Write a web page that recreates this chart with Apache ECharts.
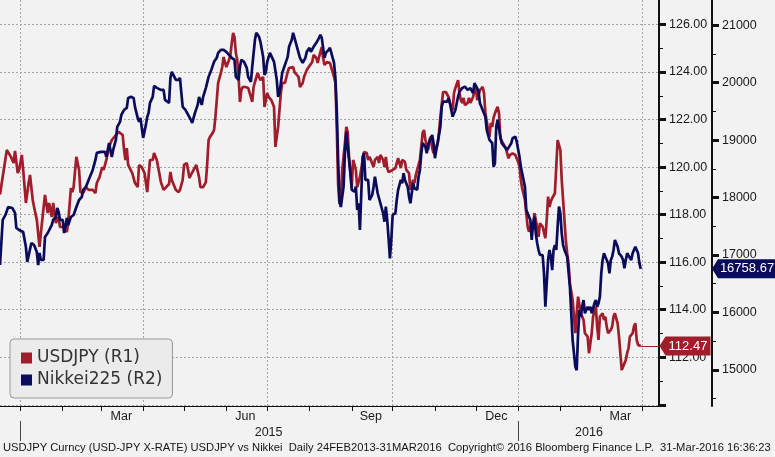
<!DOCTYPE html>
<html><head><meta charset="utf-8">
<script src="https://cdn.jsdelivr.net/npm/echarts@6/dist/echarts.min.js"></script>
<style>html,body{margin:0;padding:0;background:#f2f2f2}#c{width:775px;height:457px}</style>
</head><body><div id="c"></div>
<script>
// ---------- DATA ----------
const usdDates = ['2014-12-17','2014-12-22','2014-12-25','2014-12-27','2014-12-28','2014-12-30','2014-12-31','2015-01-02','2015-01-03','2015-01-05','2015-01-07','2015-01-08','2015-01-10','2015-01-11','2015-01-13','2015-01-15','2015-01-16','2015-01-18','2015-01-19','2015-01-21','2015-01-22','2015-01-24','2015-01-25','2015-01-27','2015-01-29','2015-01-30','2015-02-02','2015-02-04','2015-02-05','2015-02-07','2015-02-08','2015-02-09','2015-02-11','2015-02-13','2015-02-14','2015-02-16','2015-02-18','2015-02-20','2015-02-23','2015-02-25','2015-02-26','2015-02-28','2015-03-02','2015-03-03','2015-03-05','2015-03-07','2015-03-09','2015-03-12','2015-03-14','2015-03-17','2015-03-18','2015-03-19','2015-03-20','2015-03-21','2015-03-24','2015-03-26','2015-03-28','2015-03-29','2015-03-31','2015-04-02','2015-04-04','2015-04-06','2015-04-08','2015-04-09','2015-04-11','2015-04-12','2015-04-14','2015-04-16','2015-04-17','2015-04-20','2015-04-21','2015-04-22','2015-04-25','2015-04-27','2015-04-28','2015-04-30','2015-05-01','2015-05-03','2015-05-05','2015-05-06','2015-05-08','2015-05-10','2015-05-12','2015-05-13','2015-05-15','2015-05-17','2015-05-18','2015-05-19','2015-05-20','2015-05-22','2015-05-23','2015-05-24','2015-05-25','2015-05-26','2015-05-28','2015-05-29','2015-05-30','2015-06-01','2015-06-03','2015-06-04','2015-06-05','2015-06-06','2015-06-07','2015-06-08','2015-06-09','2015-06-10','2015-06-11','2015-06-12','2015-06-13','2015-06-15','2015-06-17','2015-06-19','2015-06-20','2015-06-21','2015-06-22','2015-06-24','2015-06-25','2015-06-26','2015-06-28','2015-06-29','2015-06-30','2015-07-01','2015-07-02','2015-07-04','2015-07-06','2015-07-07','2015-07-08','2015-07-09','2015-07-11','2015-07-12','2015-07-14','2015-07-16','2015-07-17','2015-07-20','2015-07-21','2015-07-22','2015-07-24','2015-07-25','2015-07-27','2015-07-28','2015-07-30','2015-07-31','2015-08-03','2015-08-04','2015-08-06','2015-08-07','2015-08-08','2015-08-10','2015-08-11','2015-08-12','2015-08-14','2015-08-16','2015-08-19','2015-08-20','2015-08-21','2015-08-22','2015-08-23','2015-08-24','2015-08-25','2015-08-27','2015-08-28','2015-08-29','2015-08-30','2015-09-01','2015-09-02','2015-09-03','2015-09-04','2015-09-05','2015-09-07','2015-09-09','2015-09-10','2015-09-12','2015-09-13','2015-09-14','2015-09-15','2015-09-17','2015-09-18','2015-09-20','2015-09-21','2015-09-22','2015-09-24','2015-09-25','2015-09-26','2015-09-27','2015-09-28','2015-10-01','2015-10-03','2015-10-05','2015-10-06','2015-10-07','2015-10-08','2015-10-10','2015-10-11','2015-10-13','2015-10-14','2015-10-16','2015-10-17','2015-10-18','2015-10-19','2015-10-21','2015-10-23','2015-10-24','2015-10-25','2015-10-27','2015-10-28','2015-10-29','2015-10-30','2015-10-31','2015-11-01','2015-11-03','2015-11-04','2015-11-05','2015-11-07','2015-11-08','2015-11-09','2015-11-10','2015-11-11','2015-11-12','2015-11-14','2015-11-15','2015-11-16','2015-11-18','2015-11-19','2015-11-20','2015-11-21','2015-11-22','2015-11-23','2015-11-25','2015-11-26','2015-11-27','2015-11-29','2015-11-30','2015-12-01','2015-12-02','2015-12-03','2015-12-04','2015-12-06','2015-12-07','2015-12-08','2015-12-10','2015-12-11','2015-12-12','2015-12-13','2015-12-14','2015-12-15','2015-12-17','2015-12-18','2015-12-19','2015-12-21','2015-12-23','2015-12-25','2015-12-26','2015-12-28','2015-12-30','2015-12-31','2016-01-01','2016-01-02','2016-01-03','2016-01-04','2016-01-06','2016-01-07','2016-01-08','2016-01-09','2016-01-11','2016-01-12','2016-01-13','2016-01-14','2016-01-16','2016-01-17','2016-01-19','2016-01-21','2016-01-22','2016-01-23','2016-01-24','2016-01-25','2016-01-26','2016-01-28','2016-01-29','2016-01-30','2016-01-31','2016-02-01','2016-02-02','2016-02-03','2016-02-05','2016-02-06','2016-02-07','2016-02-08','2016-02-10','2016-02-12','2016-02-13','2016-02-14','2016-02-16','2016-02-17','2016-02-18','2016-02-19','2016-02-21','2016-02-22','2016-02-23','2016-02-24','2016-02-25','2016-02-27','2016-02-28','2016-02-29','2016-03-01','2016-03-03','2016-03-04','2016-03-05','2016-03-06','2016-03-07','2016-03-09','2016-03-10','2016-03-11','2016-03-12','2016-03-14','2016-03-15','2016-03-16','2016-03-17','2016-03-18','2016-03-20','2016-03-21','2016-03-22','2016-03-23','2016-03-25','2016-03-26','2016-03-27','2016-03-28','2016-03-29','2016-03-31'];
const usdValues = [118.85,120.72,120.43,120.17,120.68,119.75,119.88,120.51,119.88,118.49,119.33,119.67,118.62,118.32,117.78,116.64,117.23,118.32,118.83,118.07,118.49,117.90,118.49,117.65,117.90,117.48,117.48,117.27,117.65,119.12,118.95,119.16,120.43,119.88,118.95,118.91,119.16,119.04,119.04,118.91,119.33,119.58,120.00,119.88,120.30,120.85,121.14,121.35,121.48,121.35,120.72,120.30,120.80,120.09,119.75,119.33,119.16,120.09,120.00,119.75,118.95,120.30,120.30,120.59,120.30,120.00,119.37,119.04,119.04,119.29,119.80,119.46,119.04,118.95,119.04,119.46,120.09,120.17,119.54,119.67,119.88,120.09,119.58,119.16,119.16,119.37,120.17,121.14,121.27,121.44,121.56,122.11,122.82,123.54,123.96,124.21,124.63,124.21,124.51,124.72,125.22,125.64,125.47,124.80,124.51,123.79,122.74,123.24,123.37,123.37,123.33,122.95,122.74,123.37,123.58,123.96,123.79,123.66,123.79,122.53,122.53,123.12,122.95,122.82,122.53,120.85,120.85,121.69,123.12,123.54,123.54,124.00,124.17,124.21,124.00,123.96,123.79,123.37,123.54,123.79,124.09,124.09,124.42,124.72,124.59,124.38,124.63,125.05,124.59,124.30,124.42,124.38,123.79,123.54,121.69,119.25,118.45,118.70,119.88,121.01,121.69,121.48,120.43,119.16,120.30,120.30,119.88,119.16,119.58,120.30,120.64,120.59,120.30,120.43,120.30,120.00,120.30,120.43,120.17,120.51,120.30,120.00,120.43,119.96,119.79,119.88,119.96,120.38,120.17,119.96,120.30,120.22,119.88,119.75,119.04,119.46,119.33,119.67,119.75,120.30,121.44,121.56,121.14,120.72,121.14,121.27,120.80,120.59,120.72,121.01,121.48,122.11,123.16,123.24,123.16,123.12,122.95,122.70,122.40,123.12,123.33,123.66,123.12,122.82,122.70,122.91,122.61,122.70,122.91,122.70,122.95,123.24,123.37,122.82,122.74,123.24,123.37,123.12,122.28,121.56,121.27,121.86,121.69,122.07,122.26,122.54,122.26,121.21,121.00,120.79,120.37,120.51,120.58,120.51,120.58,120.23,120.02,119.46,119.11,118.62,118.06,117.49,117.28,117.64,117.35,118.06,117.78,117.07,117.64,117.49,117.01,117.78,118.76,118.33,118.55,118.69,118.90,120.02,121.14,121.07,120.72,119.46,118.62,116.93,116.37,115.95,115.11,114.41,113.01,113.85,114.55,113.85,113.71,113.57,113.01,112.87,112.17,112.17,113.01,113.71,114.13,113.29,112.73,113.71,113.85,113.57,113.71,113.29,113.01,113.15,113.29,113.71,113.85,113.43,112.87,112.17,111.46,111.60,111.89,112.17,112.38,112.87,113.01,113.29,113.43,112.73,112.52,112.47];

const nkDates = ['2014-12-17','2014-12-19','2014-12-21','2014-12-23','2014-12-26','2014-12-28','2014-12-29','2014-12-31','2015-01-03','2015-01-05','2015-01-06','2015-01-07','2015-01-09','2015-01-11','2015-01-13','2015-01-14','2015-01-15','2015-01-16','2015-01-18','2015-01-19','2015-01-21','2015-01-22','2015-01-24','2015-01-25','2015-01-27','2015-01-28','2015-01-29','2015-01-30','2015-02-01','2015-02-02','2015-02-03','2015-02-04','2015-02-05','2015-02-07','2015-02-09','2015-02-11','2015-02-13','2015-02-15','2015-02-16','2015-02-18','2015-02-20','2015-02-23','2015-02-25','2015-02-26','2015-03-01','2015-03-02','2015-03-04','2015-03-05','2015-03-07','2015-03-08','2015-03-09','2015-03-10','2015-03-12','2015-03-13','2015-03-15','2015-03-16','2015-03-18','2015-03-20','2015-03-21','2015-03-23','2015-03-25','2015-03-26','2015-03-28','2015-03-29','2015-03-30','2015-04-01','2015-04-03','2015-04-04','2015-04-05','2015-04-06','2015-04-08','2015-04-09','2015-04-11','2015-04-14','2015-04-16','2015-04-17','2015-04-20','2015-04-21','2015-04-22','2015-04-25','2015-04-27','2015-04-28','2015-04-29','2015-04-30','2015-05-02','2015-05-04','2015-05-06','2015-05-07','2015-05-09','2015-05-11','2015-05-12','2015-05-14','2015-05-15','2015-05-17','2015-05-19','2015-05-21','2015-05-23','2015-05-25','2015-05-26','2015-05-28','2015-05-30','2015-06-01','2015-06-03','2015-06-04','2015-06-05','2015-06-07','2015-06-08','2015-06-10','2015-06-11','2015-06-12','2015-06-14','2015-06-16','2015-06-17','2015-06-19','2015-06-20','2015-06-22','2015-06-23','2015-06-25','2015-06-26','2015-06-28','2015-06-29','2015-06-30','2015-07-01','2015-07-03','2015-07-04','2015-07-06','2015-07-07','2015-07-08','2015-07-09','2015-07-10','2015-07-11','2015-07-12','2015-07-14','2015-07-16','2015-07-17','2015-07-19','2015-07-20','2015-07-22','2015-07-23','2015-07-24','2015-07-25','2015-07-27','2015-07-28','2015-07-29','2015-07-30','2015-08-01','2015-08-02','2015-08-04','2015-08-06','2015-08-08','2015-08-09','2015-08-10','2015-08-11','2015-08-12','2015-08-13','2015-08-14','2015-08-15','2015-08-16','2015-08-19','2015-08-20','2015-08-21','2015-08-22','2015-08-23','2015-08-24','2015-08-25','2015-08-26','2015-08-27','2015-08-28','2015-08-29','2015-08-31','2015-09-01','2015-09-03','2015-09-04','2015-09-05','2015-09-06','2015-09-07','2015-09-08','2015-09-09','2015-09-10','2015-09-11','2015-09-13','2015-09-14','2015-09-16','2015-09-17','2015-09-18','2015-09-20','2015-09-22','2015-09-24','2015-09-25','2015-09-26','2015-09-27','2015-09-28','2015-09-29','2015-09-30','2015-10-01','2015-10-03','2015-10-04','2015-10-05','2015-10-07','2015-10-08','2015-10-09','2015-10-10','2015-10-12','2015-10-13','2015-10-14','2015-10-15','2015-10-16','2015-10-17','2015-10-19','2015-10-20','2015-10-21','2015-10-22','2015-10-23','2015-10-25','2015-10-26','2015-10-27','2015-10-28','2015-10-30','2015-10-31','2015-11-01','2015-11-02','2015-11-03','2015-11-05','2015-11-06','2015-11-07','2015-11-08','2015-11-10','2015-11-11','2015-11-12','2015-11-13','2015-11-14','2015-11-16','2015-11-17','2015-11-18','2015-11-19','2015-11-21','2015-11-22','2015-11-23','2015-11-24','2015-11-25','2015-11-27','2015-11-28','2015-11-29','2015-11-30','2015-12-02','2015-12-03','2015-12-04','2015-12-05','2015-12-06','2015-12-08','2015-12-09','2015-12-10','2015-12-11','2015-12-13','2015-12-14','2015-12-15','2015-12-16','2015-12-17','2015-12-19','2015-12-20','2015-12-22','2015-12-24','2015-12-25','2015-12-27','2015-12-28','2015-12-30','2015-12-31','2016-01-02','2016-01-03','2016-01-04','2016-01-05','2016-01-06','2016-01-07','2016-01-08','2016-01-10','2016-01-11','2016-01-12','2016-01-13','2016-01-14','2016-01-15','2016-01-16','2016-01-17','2016-01-19','2016-01-20','2016-01-21','2016-01-22','2016-01-23','2016-01-24','2016-01-25','2016-01-26','2016-01-27','2016-01-28','2016-01-29','2016-01-30','2016-01-31','2016-02-01','2016-02-02','2016-02-03','2016-02-04','2016-02-06','2016-02-07','2016-02-08','2016-02-09','2016-02-10','2016-02-12','2016-02-13','2016-02-14','2016-02-15','2016-02-16','2016-02-17','2016-02-18','2016-02-19','2016-02-21','2016-02-22','2016-02-23','2016-02-24','2016-02-26','2016-02-27','2016-02-28','2016-02-29','2016-03-01','2016-03-02','2016-03-03','2016-03-04','2016-03-05','2016-03-07','2016-03-08','2016-03-09','2016-03-10','2016-03-11','2016-03-12','2016-03-14','2016-03-15','2016-03-17','2016-03-18','2016-03-19','2016-03-20','2016-03-21','2016-03-22','2016-03-24','2016-03-25','2016-03-27','2016-03-28','2016-03-29','2016-03-30','2016-03-31'];
const nkValues = [16825,17610,17697,17836,17819,17732,17470,17436,17401,17139,16878,16878,17209,17174,17052,16825,17035,16913,16913,17314,17383,17349,17523,17610,17662,17819,17749,17610,17610,17383,17488,17645,17523,17662,17697,17836,17958,18011,18133,18185,18307,18481,18656,18778,18795,18778,18795,18708,18952,18830,18708,18830,19004,19231,19318,19440,19527,19562,19736,19754,19736,19579,19388,19318,19388,19039,19266,19405,19475,19649,19754,19946,19911,19876,19876,19701,19649,20085,20190,20050,20050,20085,19824,19579,19527,19440,19353,19301,19475,19614,19754,19614,19754,19911,20102,20224,20364,20434,20521,20573,20573,20538,20486,20486,20434,20399,20102,20050,20277,20399,20364,20259,20102,20015,20277,20747,20869,20800,20712,20451,20137,20190,20364,20521,20538,20364,20346,20050,19754,19824,19998,20172,20312,20451,20625,20747,20869,20695,20695,20521,20434,20346,20346,20434,20538,20608,20538,20625,20695,20782,20834,20782,20608,20434,20521,20538,20573,20608,20346,20085,19527,18656,17958,17836,17819,18190,18772,19149,18887,18424,18133,18103,18190,17784,17901,17436,18075,18713,18772,18307,18307,17958,18046,18190,18365,18075,17901,17727,17580,17842,17610,17291,16942,17261,17697,17727,17958,18133,18307,18250,18424,18307,18190,18016,17901,18075,18250,18162,18133,18365,18481,18772,18947,18887,18772,18917,18975,19091,18947,18685,18830,18947,19236,19585,19672,19701,19672,19731,19644,19527,19410,19527,19644,19759,19846,19905,19876,19933,19933,19876,19905,19905,19818,19993,19905,19846,19644,19585,19527,19410,19179,19091,19004,18947,18539,18598,19236,19353,19062,18947,18887,18830,18830,18947,19034,19062,18975,18713,18539,18424,18307,18190,17784,17727,17610,17261,17552,17667,17378,17204,17087,17000,17000,16681,16099,16099,16913,17087,16970,16738,17087,17174,17087,17493,17842,17727,17378,17174,17087,16970,17000,16447,15984,15518,15053,14995,15635,16041,15924,16099,16215,15984,16099,16041,16099,15984,16158,16215,16099,16158,16273,16681,16913,17029,16970,16855,16681,16913,16970,17087,17261,17145,17029,16970,16913,16768,16913,17029,17000,16913,17029,17145,17117,17029,16855,16758.67];

const usdName = 'USDJPY (R1)';
const nkName = 'Nikkei225 (R2)';
const usdTicks = [110,112,114,116,118,120,122,124,126];
const usdLabels = [112,114,116,118,120,122,124,126];
const usdMinor = [111,113,115,117,119,121,123,125];
const nkTicks = [15000,16000,17000,18000,19000,20000,21000];
const nkMinor = [14500,15500,16500,17500,18500,19500,20500];
const monthTicks = ['2015-01-01','2015-02-01','2015-03-01','2015-04-01','2015-05-01','2015-06-01','2015-07-01','2015-08-01','2015-09-01','2015-10-01','2015-11-01','2015-12-01','2016-01-01','2016-02-01','2016-03-01','2016-04-01'];
const monthLabelDates = ['2015-03-16','2015-06-15','2015-09-15','2015-12-16','2016-03-16'];
const quarterLines = ['2015-01-01','2015-04-01','2015-07-01','2015-10-01','2016-01-01','2016-04-01'];
const yearTicks = ['2015-01-01','2016-01-01'];
const yearLabelDates = ['2015-07-02','2016-02-22'];
const monthNames = ['Jan','Feb','Mar','Apr','May','Jun','Jul','Aug','Sep','Oct','Nov','Dec'];
const footer = 'USDJPY Curncy (USD-JPY X-RATE) USDJPY vs Nikkei  Daily 24FEB2013-31MAR2016  Copyright\u00a9 2016 Bloomberg Finance L.P.  31-Mar-2016 16:36:23';

// ---------- helpers ----------
function ts(s){const p=s.split('-');return new Date(+p[0],+p[1]-1,+p[2]).getTime();}
const xMin = ts('2014-12-17');
const xMax = ts('2016-04-13') + 8.4*3600*1000;
const usdMin = 109.95, usdMax = 127.03;
const nkMin = 14370, nkMax = 21441;

const RED = '#a11d2c', NAVY = '#0b0b5c';
const AX = '#111';
const labelFont = {fontFamily:'Liberation Sans', fontSize:12.5, color:'#1a1a1a'};
const grid = {left:0, right:116, top:0, bottom:51};

const usdData = usdDates.map((d,i)=>[ts(d), usdValues[i]]);
const nkData = nkDates.map((d,i)=>[ts(d), nkValues[i]]);
const usdLast = usdValues[usdValues.length-1];
const nkLast = nkValues[nkValues.length-1];
const usdLastT = ts(usdDates[usdDates.length-1]);

function xBase(extra){return Object.assign({type:'value', min:xMin, max:xMax, gridIndex:0, position:'bottom', scale:true,
  axisLine:{show:false}, axisTick:{show:false}, axisLabel:{show:false}, splitLine:{show:false}}, extra);}
function yBase(extra){return Object.assign({type:'value', position:'right', gridIndex:0,
  axisLine:{show:false}, axisTick:{show:false}, axisLabel:{show:false}, splitLine:{show:false}}, extra);}

const option = {
  animation:false,
  backgroundColor:'#f2f2f2',
  title:{text:footer, left:3, top:442, padding:0,
    textStyle:{fontFamily:'Liberation Sans', fontSize:11.2, fontWeight:'normal', color:'#151515'}},
  legend:{left:10, top:339, orient:'vertical', selectedMode:false, icon:'rect', itemWidth:11, itemHeight:11, itemGap:2,
    padding:[9,10,8,11], backgroundColor:'#ebebeb', borderColor:'#9a9a9a', borderWidth:1, borderRadius:4,
    textStyle:{fontFamily:'DejaVu Sans', fontSize:17, lineHeight:20, color:'#333'},
    data:[usdName, nkName]},
  grid:grid,
  xAxis:[
    xBase({axisLine:{show:true, onZero:false, lineStyle:{color:AX, width:1}},
      axisTick:{show:true, length:5, customValues:monthTicks.map(ts), lineStyle:{color:AX}},
      axisLabel:Object.assign({show:true, margin:4, customValues:monthLabelDates.map(ts),
        formatter:v=>monthNames[new Date(v).getMonth()]}, labelFont)}),
    xBase({axisTick:{show:false, customValues:quarterLines.map(ts)},
      splitLine:{show:true, lineStyle:{color:'#a5a5a5', width:1, type:[2,2]}}}),
    xBase({offset:15, axisTick:{show:true, length:20, customValues:yearTicks.map(ts), lineStyle:{color:'#444'}},
      axisLabel:Object.assign({show:true, margin:5, customValues:yearLabelDates.map(ts),
        formatter:v=>String(new Date(v).getFullYear())}, labelFont)})
  ],
  yAxis:[
    yBase({min:usdMin, max:usdMax, offset:0,
      axisLine:{show:true, lineStyle:{color:AX, width:2}},
      axisTick:{show:true, length:7, customValues:usdTicks, lineStyle:{color:AX, width:3}},
      axisLabel:Object.assign({show:true, margin:10, customValues:usdLabels, formatter:v=>v.toFixed(2)}, labelFont),
      splitLine:{show:true, lineStyle:{color:'#a5a5a5', width:1, type:[2,2]}}}),
    yBase({min:nkMin, max:nkMax, offset:53,
      axisLine:{show:true, lineStyle:{color:AX, width:2}},
      axisTick:{show:true, length:7, customValues:nkTicks, lineStyle:{color:AX, width:3}},
      axisLabel:Object.assign({show:true, margin:10, customValues:nkTicks, formatter:v=>String(v)}, labelFont)}),
    yBase({min:usdMin, max:usdMax, offset:0,
      axisTick:{show:true, length:4, customValues:usdMinor, lineStyle:{color:AX, width:1}}}),
    yBase({min:nkMin, max:nkMax, offset:53,
      axisTick:{show:true, length:4, customValues:nkMinor, lineStyle:{color:AX, width:1}}})
  ],
  series:[
    {name:usdName, type:'line', xAxisIndex:0, yAxisIndex:0, data:usdData, showSymbol:false, symbol:'none',
      clip:false, color:RED, lineStyle:{color:RED, width:2.7}, z:2,
      markLine:{silent:true, symbol:['none','none'], label:{show:false}, lineStyle:{color:RED, width:1, type:'solid'},
        data:[[{coord:[usdLastT, usdLast]},{coord:[xMax, usdLast]}]]},
      markPoint:{silent:true, symbol:'path://M0,9.5 L6,0 L51,0 L51,19 L6,19 Z', symbolSize:[51,19], symbolOffset:[26,0],
        itemStyle:{color:RED}, label:{show:true, position:'inside', offset:[3,0], color:'#fff', fontFamily:'Liberation Sans', fontSize:13,
          formatter:p=>Number(p.value).toFixed(2)},
        data:[{coord:[xMax, usdLast], value:usdLast}]}},
    {name:nkName, type:'line', xAxisIndex:0, yAxisIndex:1, data:nkData, showSymbol:false, symbol:'none',
      clip:false, color:NAVY, lineStyle:{color:NAVY, width:2.7}, z:3,
      markPoint:{silent:true, symbol:'path://M0,9.5 L6,0 L64,0 L64,19 L6,19 Z', symbolSize:[64,19], symbolOffset:[85,0],
        itemStyle:{color:NAVY}, label:{show:true, position:'inside', offset:[3,0], color:'#fff', fontFamily:'Liberation Sans', fontSize:13,
          formatter:p=>Number(p.value).toFixed(2)},
        data:[{coord:[xMax, nkLast], value:nkLast}]}}
  ]
};
const chart = echarts.init(document.getElementById('c'), null, {renderer:'canvas'});
chart.setOption(option);
</script></body></html>
